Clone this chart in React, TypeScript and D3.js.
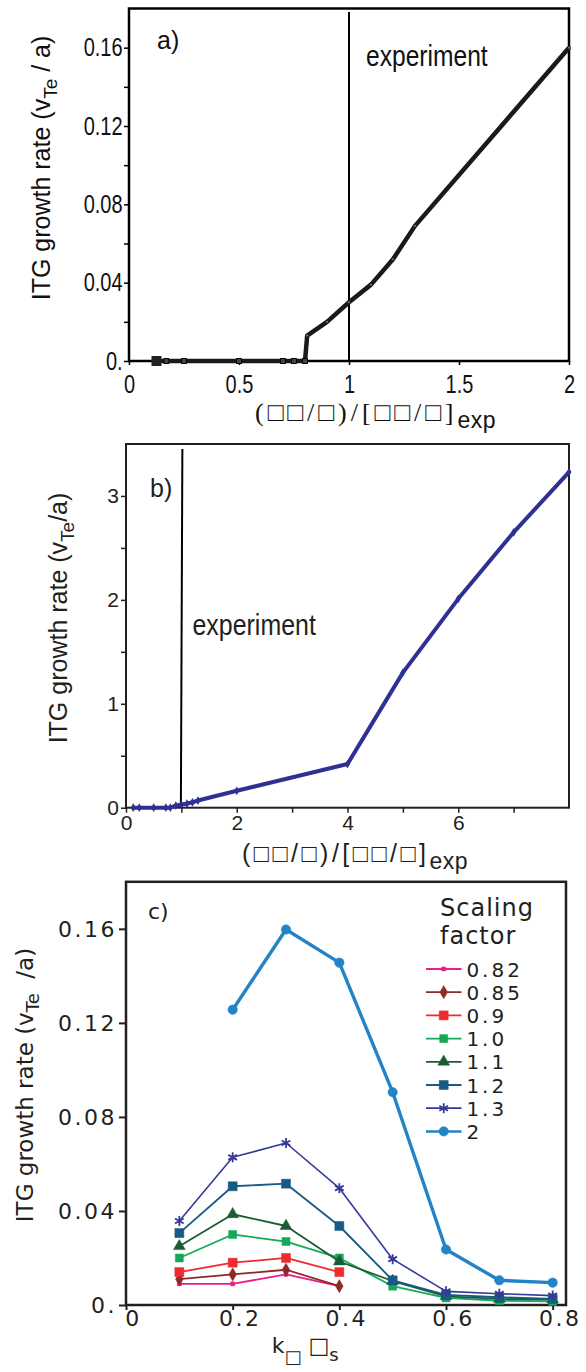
import { useEffect, useRef } from "react";
import * as d3 from "d3";

// panel a: growth rate vs gradient ratio (zoomed)
const ratioA = [0.125, 0.17, 0.25, 0.5, 0.7, 0.75, 0.8, 0.81, 0.9, 1.0, 1.1, 1.2, 1.3, 2.0];
const growthA = [0, 0, 0, 0, 0, 0, 0, 0.013, 0.02, 0.03, 0.039, 0.052, 0.069, 0.16];
const yTicksA = [0, 0.04, 0.08, 0.12, 0.16];
const yMinorA = [0.02, 0.06, 0.1, 0.14];
const xTicksA = [0, 0.5, 1, 1.5, 2];

// panel b: full range
const ratioB = [0.13, 0.24, 0.5, 0.72, 0.8, 0.9, 1.0, 1.1, 1.2, 1.3, 2, 4, 5, 6, 7, 8];
const growthB = [0, 0, 0, 0, 0, 0.02, 0.03, 0.039, 0.052, 0.069, 0.163, 0.42, 1.3, 2.01, 2.65, 3.23];
const yTicksB = [0, 1, 2, 3];
const yMinorB = [0.5, 1.5, 2.5];
const xTicksB = [0, 2, 4, 6];
const xMinorB = [1, 3, 5, 7];

// panel c: spectra for each scaling factor
const kValues = [0.1, 0.2, 0.3, 0.4, 0.5, 0.6, 0.7, 0.8];
const scalingFactors = ["0.82", "0.85", "0.9", "1.0", "1.1", "1.2", "1.3", "2"];
const g082 = [0.009, 0.009, 0.013, 0.008];
const g085 = [0.011, 0.013, 0.015, 0.008];
const g090 = [0.014, 0.018, 0.02, 0.014];
const g100 = [0.02, 0.03, 0.027, 0.02, 0.008, 0.003, 0.0018, 0.0015];
const g110 = [0.025, 0.0386, 0.0336, 0.0185, 0.0102, 0.0037, 0.0026, 0.0023];
const g120 = [0.0306, 0.0505, 0.0516, 0.0336, 0.0105, 0.0043, 0.0033, 0.0026];
const g130 = [0.0357, 0.0628, 0.0689, 0.0497, 0.0195, 0.0058, 0.0048, 0.004];
const g200 = [null, 0.1256, 0.1597, 0.1456, 0.0905, 0.0236, 0.0105, 0.0095];
const yTicksC = [0, 0.04, 0.08, 0.12, 0.16];
const xTicksC = [0, 0.2, 0.4, 0.6, 0.8];

const SANS = "'Liberation Sans', Arial, sans-serif";
const DEJAVU = "'DejaVu Sans', Verdana, sans-serif";
const SERIF = "'Liberation Serif', 'DejaVu Serif', serif";
const INK = "#231f20";

type Sel = d3.Selection<SVGSVGElement, unknown, null, undefined>;

function drawA(svg: Sel) {
    const x = d3.scaleLinear().domain([0, 2]).range([129, 569]);
    const y = d3.scaleLinear().domain([0, 0.18]).range([361, 8.5]);
    const g = svg.append("g");

    const yAx = g.append("g").attr("transform", "translate(129,0)")
        .call(d3.axisLeft(y).tickValues(yTicksA).tickSize(5).tickPadding(3)
            .tickFormat((d) => (+d === 0 ? "0." : d3.format(".2f")(+d))));
    g.append("g").attr("transform", "translate(129,0)")
        .call(d3.axisLeft(y).tickValues(yMinorA).tickSize(5).tickFormat(() => ""));
    const xAx = g.append("g").attr("transform", "translate(0,361)")
        .call(d3.axisBottom(x).tickValues(xTicksA).tickSize(4).tickFormat((d) => String(d)));
    g.selectAll(".domain").remove();
    g.selectAll(".tick line").attr("stroke", "#000").attr("stroke-width", 1.5);
    yAx.selectAll("text").attr("font-family", SANS).attr("font-size", 25)
        .attr("transform", "scale(0.8,1)").attr("fill", "#111");
    xAx.selectAll("text").attr("font-family", SANS).attr("font-size", 25)
        .attr("transform", "scale(0.8,1)").attr("fill", "#111").attr("y", 32).attr("dy", 0);

    g.append("rect").attr("x", 129).attr("y", 8.5).attr("width", 440).attr("height", 352.5)
        .attr("fill", "none").attr("stroke", "#000").attr("stroke-width", 2.5);

    g.append("line").attr("x1", x(1)).attr("x2", x(1)).attr("y1", 12).attr("y2", y(0))
        .attr("stroke", "#000").attr("stroke-width", 2);

    const pts = ratioA.map((r, i) => [r, growthA[i]] as [number, number]);
    const line = d3.line<[number, number]>().x((d) => x(d[0])).y((d) => y(d[1]));
    g.append("path").attr("d", line(pts)).attr("fill", "none").attr("stroke", "#1a1a1a")
        .attr("stroke-width", 4.5).attr("stroke-linejoin", "round");

    pts.forEach((p, i) => {
        if (i === 0) {
            g.append("path").attr("d", d3.symbol(d3.symbolSquare, 100)())
                .attr("transform", `translate(${x(p[0])},${y(p[1])})`).attr("fill", "#222");
        } else if (p[1] === 0) {
            g.append("path").attr("d", d3.symbol(d3.symbolSquare, 25)())
                .attr("transform", `translate(${x(p[0])},${y(p[1])})`)
                .attr("fill", "#444").attr("stroke", "#000").attr("stroke-width", 1);
        } else {
            g.append("circle").attr("cx", x(p[0])).attr("cy", y(p[1])).attr("r", 1.5)
                .attr("fill", "#777").attr("stroke", "#000").attr("stroke-width", 0.6);
        }
    });

    g.append("text").attr("x", 157).attr("y", 49).attr("font-family", SANS).attr("font-size", 25)
        .attr("fill", "#111").text("a)");
    g.append("text").attr("transform", "translate(366,66) scale(0.82,1)").attr("font-family", SANS)
        .attr("font-size", 30).attr("fill", "#111").text("experiment");

    const yl = g.append("text").attr("transform", "translate(50,168) rotate(-90)")
        .attr("text-anchor", "middle").attr("font-family", SANS).attr("font-size", 25).attr("fill", "#111");
    yl.append("tspan").text("ITG growth rate (v");
    yl.append("tspan").attr("font-size", 19).attr("dy", 7).text("Te");
    yl.append("tspan").attr("dy", -7).text("\u00a0/ a)");

    const xl = g.append("text").attr("x", 255).attr("y", 421).attr("font-family", SERIF)
        .attr("font-size", 26).attr("fill", "#111");
    xl.append("tspan").attr("letter-spacing", 4).text("(\u25a1\u25a1/\u25a1)/[\u25a1\u25a1/\u25a1]");
    xl.append("tspan").attr("font-family", SANS).attr("font-size", 23).attr("dy", 7)
        .attr("letter-spacing", 0.5).text("exp");
}

function drawB(svg: Sel) {
    const x = d3.scaleLinear().domain([0, 8]).range([126, 569]);
    const y = d3.scaleLinear().domain([0, 3.5]).range([807.7, 444]);
    const g = svg.append("g");

    const yAx = g.append("g").attr("transform", "translate(126,0)")
        .call(d3.axisLeft(y).tickValues(yTicksB).tickSize(5).tickPadding(2).tickFormat((d) => String(d)));
    g.append("g").attr("transform", "translate(126,0)")
        .call(d3.axisLeft(y).tickValues(yMinorB).tickSize(5).tickFormat(() => ""));
    const xAx = g.append("g").attr("transform", "translate(0,807.7)")
        .call(d3.axisBottom(x).tickValues(xTicksB).tickSize(5).tickFormat((d) => String(d)));
    g.append("g").attr("transform", "translate(0,807.7)")
        .call(d3.axisBottom(x).tickValues(xMinorB).tickSize(5).tickFormat(() => ""));
    g.selectAll(".domain").remove();
    g.selectAll(".tick line").attr("stroke", INK).attr("stroke-width", 1.5);
    yAx.selectAll("text").attr("font-family", SANS).attr("font-size", 21).attr("fill", INK);
    xAx.selectAll("text").attr("font-family", SANS).attr("font-size", 21).attr("fill", INK)
        .attr("y", 22).attr("dy", 0);

    g.append("rect").attr("x", 126).attr("y", 444).attr("width", 443).attr("height", 363.7)
        .attr("fill", "none").attr("stroke", INK).attr("stroke-width", 2);

    g.append("line").attr("x1", x(1) + 1).attr("x2", x(1) - 0.5).attr("y1", 449).attr("y2", y(0))
        .attr("stroke", "#000").attr("stroke-width", 2);

    const pts = ratioB.map((r, i) => [r, growthB[i]] as [number, number]);
    const line = d3.line<[number, number]>().x((d) => x(d[0])).y((d) => y(d[1]));
    g.append("path").attr("d", line(pts)).attr("fill", "none").attr("stroke", "#2e3192")
        .attr("stroke-width", 4).attr("stroke-linejoin", "round");
    g.selectAll(".mk").data(pts).join("path").attr("class", "mk")
        .attr("d", d3.symbol(d3.symbolDiamond, 22)())
        .attr("transform", (d) => `translate(${x(d[0])},${y(d[1])})`).attr("fill", "#2e3192");

    g.append("text").attr("x", 150).attr("y", 497).attr("font-family", SANS).attr("font-size", 25)
        .attr("fill", INK).text("b)");
    g.append("text").attr("transform", "translate(192.5,635) scale(0.86,1)").attr("font-family", SANS)
        .attr("font-size", 29).attr("fill", INK).text("experiment");

    const yl = g.append("text").attr("transform", "translate(67,618) rotate(-90)")
        .attr("text-anchor", "middle").attr("font-family", SANS).attr("font-size", 25).attr("fill", INK);
    yl.append("tspan").text("ITG growth rate (v");
    yl.append("tspan").attr("font-size", 19).attr("dy", 7).text("Te");
    yl.append("tspan").attr("dy", -7).text("/a)");

    const xl = g.append("text").attr("x", 242).attr("y", 862).attr("font-family", SANS)
        .attr("font-size", 25).attr("fill", INK);
    xl.append("tspan").attr("letter-spacing", 3.5).text("(\u25a1\u25a1/\u25a1)/[\u25a1\u25a1/\u25a1]");
    xl.append("tspan").attr("font-size", 23).attr("dy", 7).attr("letter-spacing", 0.5).text("exp");
}

function drawC(svg: Sel) {
    const x = d3.scaleLinear().domain([0, 0.825]).range([126, 566]);
    const y = d3.scaleLinear().domain([0, 0.18]).range([1305, 881.8]);
    const g = svg.append("g");

    const yAx = g.append("g").attr("transform", "translate(126,0)")
        .call(d3.axisLeft(y).tickValues(yTicksC).tickSize(7).tickPadding(2)
            .tickFormat((d) => (+d === 0 ? "0." : d3.format(".2f")(+d))));
    const xAx = g.append("g").attr("transform", "translate(0,1305)")
        .call(d3.axisBottom(x).tickValues(xTicksC).tickSize(5).tickFormat((d) => String(d)));
    g.selectAll(".domain").remove();
    g.selectAll(".tick line").attr("stroke", INK).attr("stroke-width", 2);
    yAx.selectAll("text").attr("font-family", DEJAVU).attr("font-size", 22).attr("fill", INK)
        .attr("letter-spacing", 2.5).attr("dy", "0.36em");
    xAx.selectAll("text").attr("font-family", DEJAVU).attr("font-size", 22).attr("fill", INK)
        .attr("letter-spacing", 2.5).attr("y", 21).attr("dy", 0).attr("dx", 7);

    g.append("rect").attr("x", 126).attr("y", 881.8).attr("width", 440).attr("height", 423.2)
        .attr("fill", "none").attr("stroke", INK).attr("stroke-width", 2.5);

    const series = [
        { name: scalingFactors[0], vals: g082, color: "#ec1c8c", sym: d3.symbolSquare, size: 16, width: 1.8, fill: true },
        { name: scalingFactors[1], vals: g085, color: "#8e2a26", sym: d3.symbolDiamond, size: 50, width: 1.8, fill: true },
        { name: scalingFactors[2], vals: g090, color: "#ed2a2f", sym: d3.symbolSquare, size: 81, width: 1.8, fill: true },
        { name: scalingFactors[3], vals: g100, color: "#14a85a", sym: d3.symbolSquare, size: 64, width: 1.8, fill: true },
        { name: scalingFactors[4], vals: g110, color: "#1b5d33", sym: d3.symbolTriangle, size: 60, width: 1.8, fill: true },
        { name: scalingFactors[5], vals: g120, color: "#175a83", sym: d3.symbolSquare, size: 81, width: 1.8, fill: true },
        { name: scalingFactors[6], vals: g130, color: "#353a98", sym: d3.symbolAsterisk, size: 70, width: 1.6, fill: false },
        { name: scalingFactors[7], vals: g200, color: "#2383c7", sym: d3.symbolCircle, size: 70, width: 3.4, fill: true },
    ];

    series.forEach((s) => {
        const pts = s.vals
            .map((v, i) => [kValues[i], v] as [number, number | null])
            .filter((d) => d[1] !== null) as [number, number][];
        const line = d3.line<[number, number]>().x((d) => x(d[0])).y((d) => y(d[1]));
        g.append("path").attr("d", line(pts)).attr("fill", "none").attr("stroke", s.color)
            .attr("stroke-width", s.width).attr("stroke-linejoin", "round");
        pts.forEach((p) => {
            g.append("path").attr("d", d3.symbol(s.sym, s.size)())
                .attr("transform", `translate(${x(p[0])},${y(p[1])})`)
                .attr("fill", s.fill ? s.color : "none")
                .attr("stroke", s.color).attr("stroke-width", s.fill ? 0.5 : 1.8);
        });
    });

    // legend
    const lg = g.append("g").attr("font-family", DEJAVU).attr("fill", INK);
    lg.append("text").attr("x", 440).attr("y", 915.5).attr("font-size", 24).attr("letter-spacing", 1).text("Scaling");
    lg.append("text").attr("x", 440).attr("y", 943.7).attr("font-size", 24).attr("letter-spacing", 1).text("factor");
    series.forEach((s, i) => {
        const cy = 969 + i * 23.2;
        lg.append("line").attr("x1", 426).attr("x2", 461.5).attr("y1", cy).attr("y2", cy)
            .attr("stroke", s.color).attr("stroke-width", s.width > 3 ? 2.5 : 1.8);
        lg.append("path").attr("d", d3.symbol(s.sym, s.size)())
            .attr("transform", `translate(443.7,${cy})`)
            .attr("fill", s.fill ? s.color : "none")
            .attr("stroke", s.color).attr("stroke-width", s.fill ? 0.5 : 1.8);
        lg.append("text").attr("x", 466.4).attr("y", cy + 7.5).attr("font-size", 20)
            .attr("letter-spacing", 3).text(s.name);
    });

    g.append("text").attr("x", 148).attr("y", 919).attr("font-family", DEJAVU).attr("font-size", 22)
        .attr("fill", INK).text("c)");

    const yl = g.append("text").attr("transform", "translate(33,1085) rotate(-90)")
        .attr("text-anchor", "middle").attr("font-family", DEJAVU).attr("font-size", 23).attr("fill", INK);
    yl.append("tspan").text("ITG growth rate (v");
    yl.append("tspan").attr("font-size", 18).attr("dy", 6).text("Te");
    yl.append("tspan").attr("dy", -6).text("\u00a0\u00a0/a)");

    const xl = g.append("text").attr("x", 271.7).attr("y", 1353).attr("font-family", DEJAVU)
        .attr("font-size", 22).attr("fill", INK);
    xl.append("tspan").text("k");
    xl.append("tspan").attr("dy", 10).attr("font-size", 18).text("\u25a1");
    xl.append("tspan").attr("dy", -10).text("\u00a0\u25a1");
    xl.append("tspan").attr("dy", 8).attr("font-size", 18).text("s");
}

export default function App() {
    const chartRef = useRef<SVGSVGElement>(null);

    useEffect(() => {
        if (!chartRef.current) return;
        const svg = d3.select(chartRef.current);
        svg.selectAll("*").remove();
        drawA(svg);
        drawB(svg);
        drawC(svg);
    }, []);

    return (
        <svg
            ref={chartRef}
            width={586}
            height={1372}
            style={{ position: "absolute", left: 0, top: 0, background: "#fff" }}
        />
    );
}
